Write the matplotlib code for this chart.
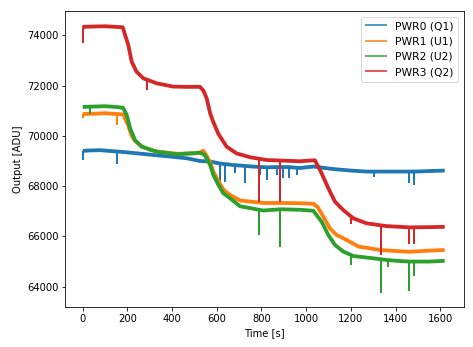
import matplotlib
matplotlib.use("Agg")
import matplotlib.pyplot as plt

# PWR0 (Q1): slow drift, plus short downward glitches
t_pwr0 = [0, 30, 80, 120, 167, 250, 316, 400, 465, 525, 570, 614, 674, 760, 823,
          880, 920, 972, 1032, 1121, 1200, 1271, 1350, 1420, 1484, 1550, 1620]
v_pwr0 = [69400, 69420, 69430, 69400, 69370, 69300, 69240, 69170, 69110, 69000,
          68980, 68900, 68840, 68780, 68750, 68760, 68760, 68720, 68780, 68680,
          68620, 68580, 68580, 68580, 68580, 68600, 68620]
glitch_t_pwr0 = [2, 152, 614, 637, 682, 726, 793, 826, 868, 898, 925, 957, 1303, 1461, 1484]
glitch_top_pwr0 = [69400, 69370, 68900, 68880, 68840, 68810, 68770, 68750, 68760,
                   68760, 68760, 68740, 68580, 68580, 68580]
glitch_low_pwr0 = [69050, 68900, 68176, 68176, 68510, 68112, 68443, 68244, 68443,
                   68310, 68310, 68443, 68380, 68110, 68050]

# PWR1 (U1)
t_pwr1 = [0, 50, 100, 150, 182, 204, 219, 234, 264, 300, 331, 421, 500, 525, 540,
          555, 570, 584, 607, 629, 659, 704, 808, 900, 972, 1032, 1050, 1077, 1106,
          1136, 1181, 1233, 1330, 1400, 1464, 1540, 1620]
v_pwr1 = [70870, 70880, 70900, 70870, 70850, 70400, 70000, 69800, 69580, 69450,
          69380, 69290, 69300, 69340, 69410, 69200, 68950, 68600, 68200, 67870,
          67650, 67430, 67330, 67330, 67320, 67300, 67180, 66790, 66320, 66060,
          65860, 65600, 65460, 65420, 65390, 65430, 65460]
glitch_t_pwr1 = [2, 152]
glitch_top_pwr1 = [70870, 70870]
glitch_low_pwr1 = [70700, 70450]

# PWR2 (U2)
t_pwr2 = [0, 100, 150, 180, 197, 212, 234, 264, 331, 421, 525, 545, 570, 584, 607,
          629, 659, 704, 808, 885, 972, 1032, 1069, 1099, 1129, 1166, 1211, 1300,
          1365, 1420, 1464, 1550, 1620]
v_pwr2 = [71150, 71180, 71150, 71120, 70830, 70300, 69830, 69570, 69370, 69270,
          69330, 69250, 68850, 68450, 68050, 67720, 67520, 67200, 67030, 67080,
          67060, 67020, 66590, 66060, 65660, 65400, 65220, 65130, 65060, 65020,
          65000, 65000, 65030]
glitch_t_pwr2 = [33, 790, 883, 1199, 1335, 1365, 1460, 1484]
glitch_top_pwr2 = [71160, 67040, 67080, 65250, 65100, 65060, 65000, 65000]
glitch_low_pwr2 = [70860, 66060, 65590, 64860, 63740, 64800, 63840, 64430]

# PWR3 (Q2)
t_pwr3 = [0, 6, 50, 100, 140, 179, 190, 204, 219, 241, 271, 331, 405, 460, 525,
          540, 555, 570, 584, 607, 644, 689, 749, 823, 972, 1039, 1062, 1069, 1099,
          1129, 1166, 1211, 1271, 1360, 1464, 1550, 1620]
v_pwr3 = [74300, 74340, 74350, 74360, 74340, 74320, 74000, 73610, 72950, 72550,
          72290, 72090, 71960, 71950, 71950, 71800, 71490, 70900, 70560, 70080,
          69570, 69300, 69150, 69040, 68990, 69030, 68640, 68510, 67920, 67380,
          67050, 66720, 66520, 66410, 66360, 66370, 66380]
glitch_t_pwr3 = [2, 288, 790, 883, 1200, 1335, 1460, 1484]
glitch_top_pwr3 = [74300, 72230, 69060, 69030, 66760, 66420, 66360, 66360]
glitch_low_pwr3 = [73680, 71830, 67350, 67380, 66500, 65260, 65700, 65700]

series = [
    ("PWR0 (Q1)", t_pwr0, v_pwr0, glitch_t_pwr0, glitch_top_pwr0, glitch_low_pwr0),
    ("PWR1 (U1)", t_pwr1, v_pwr1, glitch_t_pwr1, glitch_top_pwr1, glitch_low_pwr1),
    ("PWR2 (U2)", t_pwr2, v_pwr2, glitch_t_pwr2, glitch_top_pwr2, glitch_low_pwr2),
    ("PWR3 (Q2)", t_pwr3, v_pwr3, glitch_t_pwr3, glitch_top_pwr3, glitch_low_pwr3),
]

W, H = 473, 347
fig = plt.figure(figsize=(W / 72, H / 72), dpi=72)
ax = fig.add_axes([65.3 / W, 40.3 / H, 398.4 / W, 295.4 / H])

colors = plt.rcParams["axes.prop_cycle"].by_key()["color"]
for i, (label, t, v, gt, gtop, glow) in enumerate(series):
    c = colors[i]
    ax.plot(t, v, color=c, linewidth=3.8, solid_capstyle="butt", label=label,
            zorder=2 + i)
    ax.vlines(gt, glow, gtop, color=c, linewidth=2.0, zorder=2 + i)

ax.set_xlim(-78, 1705)
ax.set_ylim(63205, 74955)
ax.set_xticks(range(0, 1601, 200))
ax.set_yticks(range(64000, 74001, 2000))
ax.set_xlabel("Time [s]")
ax.set_ylabel("Output [ADU]")
leg = ax.legend(loc="upper right", fontsize=10.8)
for line in leg.get_lines():
    line.set_linewidth(1.5)

fig.savefig("out.png", dpi=72)
